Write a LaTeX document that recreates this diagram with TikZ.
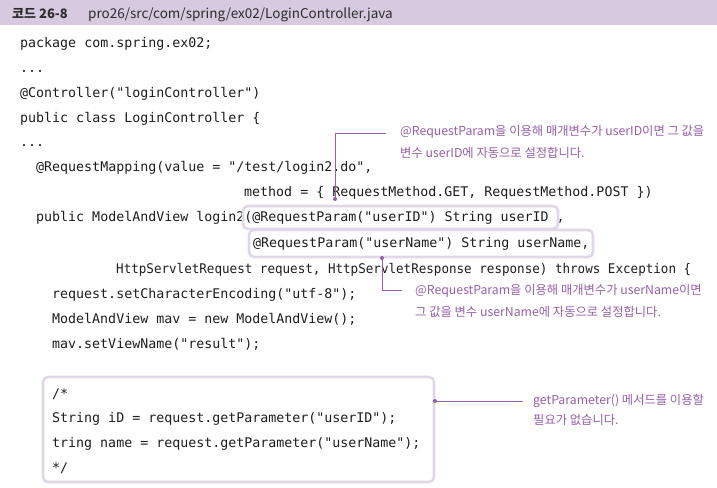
\documentclass[tikz,border=0pt]{standalone}
\usepackage{fontspec}
\newfontfamily\codefont{DejaVu Sans Mono}
\newfontfamily\krfont{Noto Sans CJK KR}
\definecolor{hdr}{RGB}{214,201,224}
\definecolor{boxc}{RGB}{224,216,233}
\definecolor{annc}{RGB}{150,95,170}
\definecolor{codec}{RGB}{30,30,30}
\definecolor{hdrtext}{RGB}{45,45,45}
\tikzset{
  code/.style={font=\codefont\fontsize{13.3}{16}\selectfont, text=codec, anchor=base west, inner sep=0pt},
  ann/.style={font=\krfont\fontsize{12.3}{14}\selectfont, text=annc, anchor=base west, inner sep=0pt},
  hdrlabel/.style={font=\krfont\fontsize{13.5}{16}\selectfont, text=hdrtext, anchor=base west, inner sep=0pt},
  hbox/.style={draw=boxc, line width=2.6pt, rounded corners=5pt},
  conn/.style={draw=annc, line width=0.6pt},
  pin/.style={circle, fill=annc, inner sep=0pt, minimum size=4pt}
}
\begin{document}
\begin{tikzpicture}[x=1pt,y=-1pt]
\useasboundingbox (0,0) rectangle (717,487);
\fill[white] (0,0) rectangle (717,487);
% header band
\fill[hdr] (0,0) rectangle (717,25);
\node[hdrlabel, font=\krfont\bfseries\fontsize{13}{16}\selectfont] (h1) at (12,18.5) {코드 26-8};
\node[hdrlabel] (h2) at (88,18.5) {pro26/src/com/spring/ex02/LoginController.java};
% code lines
\node[code] (c1) at (20,48) {package com.spring.ex02;};
\node[code] (c2) at (20,72) {...};
\node[code] (c3) at (20,97) {@Controller("loginController")};
\node[code] (c4) at (20,122) {public class LoginController \{};
\node[code] (c5) at (20,146) {...};
\node[code] (c6) at (36,171) {@RequestMapping(value = "/test/login2.do",};
\node[code] (c7) at (244,196) {method = \{ RequestMethod.GET, RequestMethod.POST \})};
\node[code] (c8) at (36,221) {public ModelAndView login2(@RequestParam("userID") String userID ,};
\node[code] (c9) at (253,247) {@RequestParam("userName") String userName,};
\node[code, xscale=0.945, transform shape] (c10) at (116,273) {HttpServletRequest request, HttpServletResponse response) throws Exception \{};
\node[code] (c11) at (52,298) {request.setCharacterEncoding("utf-8");};
\node[code] (c12) at (52,323) {ModelAndView mav = new ModelAndView();};
\node[code] (c13) at (52,348) {mav.setViewName("result");};
\node[code] (c14) at (52,398) {/*};
\node[code] (c15) at (52,422) {String iD = request.getParameter("userID");};
\node[code] (c16) at (52,447) {tring name = request.getParameter("userName");};
\node[code] (c17) at (52,472) {*/};
% highlight boxes
\draw[hbox] (243,206) rectangle (558,229);
\draw[hbox] (249,230) rectangle (593,257);
\draw[hbox] (43,377) rectangle (434,482);
% annotation 1
\node[ann] (a1) at (400,135.5) {@RequestParam을 이용해 매개변수가 userID이면 그 값을};
\node[ann] (a1b) at (400,157) {변수 userID에 자동으로 설정합니다.};
\node[pin] (d1) at (335,199) {};
\coordinate (e1) at (386,133);
\draw[conn] (d1.center) |- (e1);
% annotation 2
\node[ann] (a2) at (415,294.5) {@RequestParam을 이용해 매개변수가 userName이면};
\node[ann] (a2b) at (415,316.5) {그 값을 변수 userName에 자동으로 설정합니다.};
\node[pin] (d2) at (382,258) {};
\coordinate (e2) at (402,290);
\draw[conn] (d2.center) |- (e2);
% annotation 3
\node[ann] (a3) at (533,404.5) {getParameter() 메서드를 이용할};
\node[ann] (a3b) at (533,424) {필요가 없습니다.};
\node[pin] (d3) at (435,401) {};
\coordinate (e3) at (523,401);
\draw[conn] (d3.center) -- (e3);
\end{tikzpicture}
\end{document}
